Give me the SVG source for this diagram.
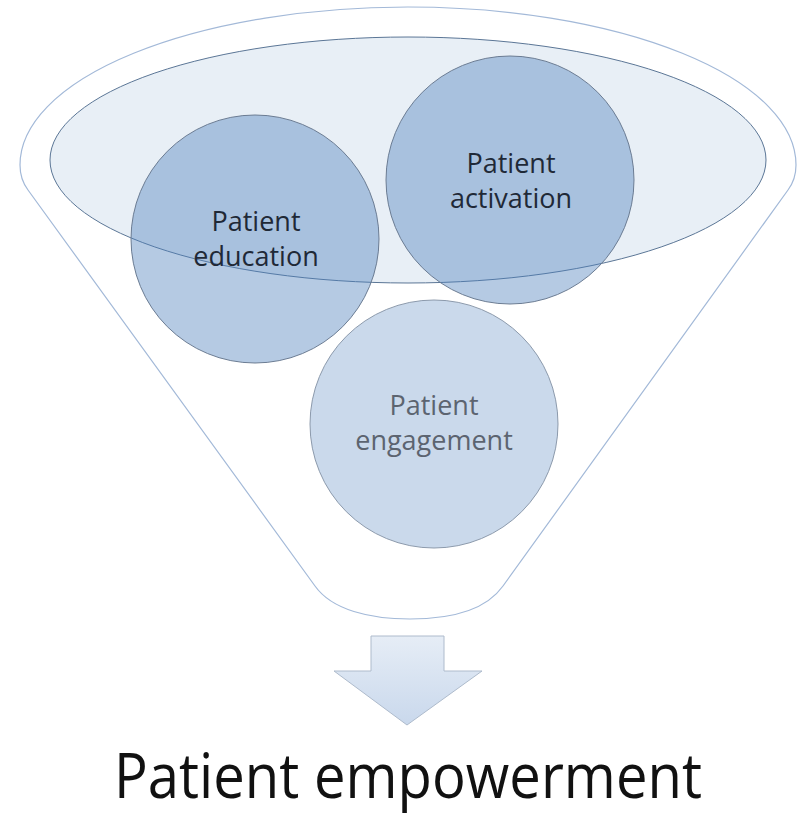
<svg xmlns="http://www.w3.org/2000/svg" width="808" height="817" viewBox="0 0 808 817">
<style>
.lbl{font-family:"Open Sans","Noto Sans","Liberation Sans",sans-serif;font-size:27px;text-anchor:middle;fill:#1f2937}
.lbl2{font-family:"Open Sans","Noto Sans","Liberation Sans",sans-serif;font-size:27px;text-anchor:middle;fill:#5c6470}
.circ{fill:#4f81bd;fill-opacity:0.42;stroke:#6b7c93;stroke-width:1}
</style>
<defs>
<linearGradient id="arrG" x1="0" y1="0" x2="0" y2="1">
<stop offset="0" stop-color="#e6edf6"/>
<stop offset="1" stop-color="#c9d8ec"/>
</linearGradient>
</defs>
<rect width="808" height="817" fill="#ffffff"/>
<g id="funnel">
<path d="M 315,586 L 28,190 C 22,182 20,174 20,165 A 388 158 0 0 1 796,165 C 796,174 794,182 788,190 L 503,586 C 486,610 450,619 410,619 C 370,619 332,610 315,586 Z" fill="#ffffff" stroke="#a3b9d8" stroke-width="1.2"/>
</g>
<g id="rim">
<ellipse cx="408" cy="160" rx="358" ry="123" fill="#4f81bd" fill-opacity="0.13" stroke="#5b7696" stroke-width="1"/>
</g>
<g id="education">
<circle class="circ" cx="255" cy="239" r="124"/>
<text class="lbl" x="256" y="231">Patient</text>
<text class="lbl" x="256" y="266">education</text>
</g>
<g id="activation">
<circle class="circ" cx="510" cy="180" r="124"/>
<text class="lbl" x="511" y="173">Patient</text>
<text class="lbl" x="511" y="208">activation</text>
</g>
<g id="engagement">
<circle cx="434" cy="424" r="124" fill="#4f81bd" fill-opacity="0.3" stroke="#8c9aac" stroke-width="1"/>
<text class="lbl2" x="434" y="415">Patient</text>
<text class="lbl2" x="434" y="450">engagement</text>
</g>
<g id="connectors">
<path d="M 371,636 L 444,636 L 444,671 L 482,671 L 407,725 L 334,671 L 371,671 Z" fill="url(#arrG)" stroke="#aebbcc" stroke-width="1"/>
</g>
<g id="result">
<text x="408" y="798" font-family="Open Sans, Noto Sans, Liberation Sans, sans-serif" font-size="62" text-anchor="middle" fill="#111111" textLength="588" lengthAdjust="spacingAndGlyphs">Patient empowerment</text>
</g>
</svg>
